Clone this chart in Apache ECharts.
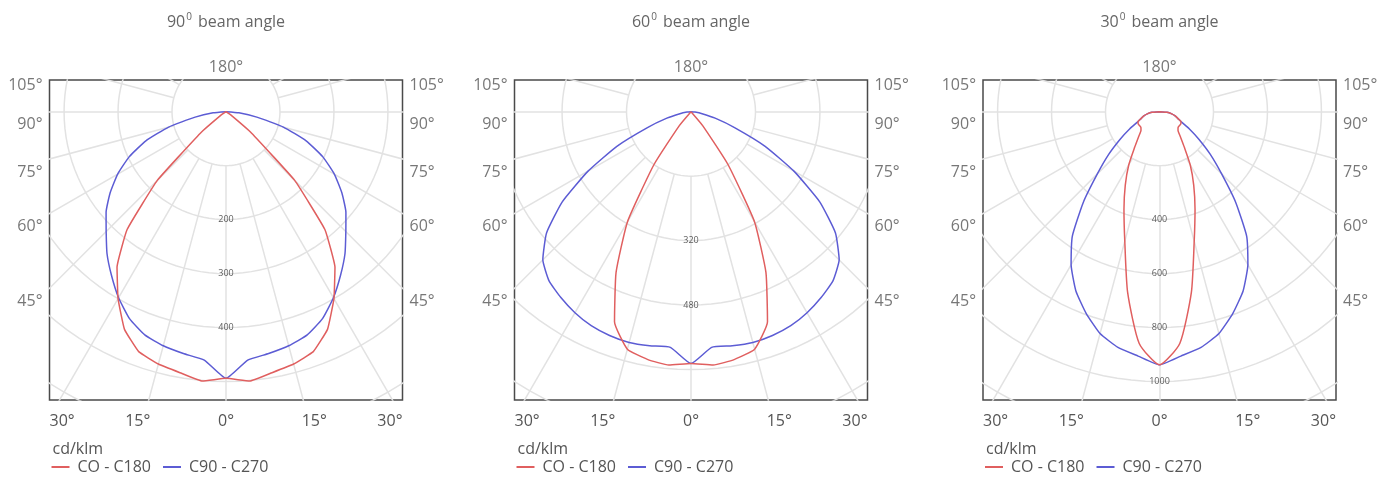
<!DOCTYPE html>
<html>
<head>
<meta charset="utf-8">
<script src="https://cdn.jsdelivr.net/npm/echarts@6/dist/echarts.min.js"></script>
<style>
html, body { margin: 0; padding: 0; background: #fff; }
#main { width: 1389px; height: 477px; }
</style>
</head>
<body>
<div id="main"></div>
<script>
// gamma angles (deg from nadir) and intensities, cd/klm
var gammaSteps = [0, 5, 10, 15, 20, 25, 30, 35, 40, 45, 50, 55, 60, 65, 70, 75, 80, 85, 90];

var red90  = [494, 501, 491, 484, 473, 445, 400, 352, 285, 180, 62, 12, 0, 0, 0, 0, 0, 0, 0];
var blue90 = [494, 462, 455, 449, 440, 423, 398, 370, 343, 314, 290, 262, 232, 198, 158, 110, 58, 24, 0];

var red60  = [625, 631, 624, 610, 555, 440, 315, 160, 45, 0, 0, 0, 0, 0, 0, 0, 0, 0, 0];
var blue60 = [625, 587, 590, 593, 591, 586, 576, 563, 548, 520, 468, 390, 295, 203, 115, 62, 28, 10, 0];

var red30  = [938, 862, 680, 497, 385, 300, 228, 160, 120, 97, 90, 90, 91, 88, 72, 60, 46, 28, 0];
var blue30 = [938, 909, 887, 851, 795, 733, 655, 563, 440, 325, 245, 178, 128, 89, 72, 60, 46, 28, 0];

var rings90 = [100, 200, 300, 400, 500, 600];
var rings60 = [160, 320, 480, 640, 800];
var rings30 = [200, 400, 600, 800, 1000, 1200];
var ringLabels90 = [200, 300, 400];
var ringLabels60 = [320, 480];
var ringLabels30 = [400, 600, 800, 1000];

var sideAngles = [105, 90, 75, 60, 45];
var bottomTicks = [30, 15, 0, 15, 30];
var legendNames = ['CO - C180', 'C90 - C270'];

var FONT = '"Open Sans", "Noto Sans", sans-serif';
var RED = '#e05f5f', BLUE = '#5c5cd4', GRID = '#e2e2e2', TXT = '#555';
var BOX_W = 353, BOX_H = 320, TOP = 80, CY = 31.7;
var D2R = Math.PI / 180;

var panels = [
    {beam: '90', left: 49.5, half: 327, red: red90, blue: blue90, rings: rings90, ringText: ringLabels90, redSmooth: 0.1},
    {beam: '60', left: 514.5, half: 438, red: red60, blue: blue60, rings: rings60, ringText: ringLabels60, redSmooth: 0.15},
    {beam: '30', left: 983, half: 654, red: red30, blue: blue30, rings: rings30, ringText: ringLabels30, redSmooth: 0.2}
];

function pt(r, g) {
    return [r * Math.sin(g * D2R), -r * Math.cos(g * D2R)];
}

// left half (C180 / C270) then right half (C0 / C90)
function outline(vals) {
    var out = [], k;
    for (k = gammaSteps.length - 1; k >= 0; k--) out.push(pt(vals[k], -gammaSteps[k]));
    for (k = 1; k < gammaSteps.length; k++) out.push(pt(vals[k], gammaSteps[k]));
    return out;
}

var chart = echarts.init(document.getElementById('main'));
var grids = [], xAxes = [], yAxes = [], series = [], legends = [], titles = [];

panels.forEach(function (p, i) {
    var s = (BOX_W / 2) / p.half;
    var yMax = CY / s, yMin = -(BOX_H - CY) / s;
    var cx = p.left + BOX_W / 2;

    grids.push({left: p.left, top: TOP, width: BOX_W, height: BOX_H, show: true,
        borderColor: '#4a4a4a', borderWidth: 1.5, backgroundColor: 'transparent'});
    xAxes.push({
        type: 'value', gridIndex: i, min: -p.half, max: p.half, interval: p.half / 2,
        axisLine: {show: false}, axisTick: {show: false}, splitLine: {show: false},
        axisLabel: {
            margin: 13, fontSize: 16, color: TXT, fontFamily: FONT,
            alignMinLabel: 'left', alignMaxLabel: 'right',
            formatter: function (v) {
                return bottomTicks[Math.round((v + p.half) / (p.half / 2))] + '°';
            }
        }
    });
    yAxes.push({type: 'value', gridIndex: i, min: yMin, max: yMax, show: false});

    // polar grid: spokes every 15 deg from the first ring outwards, and rings
    var spokes = [];
    for (var a = -165; a <= 180; a += 15) {
        spokes.push({coords: [pt(p.rings[0], a), pt(p.rings[0] * 8, a)]});
    }
    var circles = p.rings.map(function (r) {
        var c = [];
        for (var g = 0; g <= 360; g += 3) c.push(pt(r, g));
        return {coords: c};
    });
    series.push({type: 'lines', coordinateSystem: 'cartesian2d', xAxisIndex: i, yAxisIndex: i,
        data: spokes, silent: true, clip: true, z: 1,
        lineStyle: {color: GRID, width: 1.5, opacity: 1}});
    series.push({type: 'lines', polyline: true, coordinateSystem: 'cartesian2d', xAxisIndex: i, yAxisIndex: i,
        data: circles, silent: true, clip: true, z: 1,
        lineStyle: {color: GRID, width: 1.5, opacity: 1}});

    series.push({type: 'line', name: legendNames[1], xAxisIndex: i, yAxisIndex: i,
        data: outline(p.blue), symbol: 'none', smooth: 0.15, z: 3,
        lineStyle: {color: BLUE, width: 1.5}, itemStyle: {color: BLUE}});
    series.push({type: 'line', name: legendNames[0], xAxisIndex: i, yAxisIndex: i,
        data: outline(p.red), symbol: 'none', smooth: p.redSmooth, z: 4,
        lineStyle: {color: RED, width: 1.5}, itemStyle: {color: RED}});

    // ring values on the 0 deg axis
    series.push({type: 'scatter', xAxisIndex: i, yAxisIndex: i, symbolSize: 0, silent: true, clip: false, z: 5,
        data: p.ringText.map(function (r) { return {name: String(r), value: [0, -r]}; }),
        label: {show: true, position: 'inside', formatter: '{b}', fontSize: 9, color: '#333', fontFamily: FONT}});

    // angle labels where the spokes meet the frame
    var side = [];
    sideAngles.forEach(function (a) {
        var yy = -p.half / Math.tan(a * D2R);
        var clamp = yy > yMax;
        [-1, 1].forEach(function (sg) {
            side.push({name: a + '°', value: [sg * p.half, clamp ? yMax : yy],
                label: {position: sg < 0 ? 'left' : 'right', offset: [0, clamp ? 5 : 13]}});
        });
    });
    side.push({name: '180°', value: [0, yMax], label: {position: 'top', distance: 5}});
    series.push({type: 'scatter', xAxisIndex: i, yAxisIndex: i, symbolSize: 0, silent: true, clip: false, z: 5,
        data: side,
        label: {show: true, formatter: '{b}', distance: 7, fontSize: 16, color: TXT, fontFamily: FONT}});

    titles.push({
        text: '{a|' + p.beam + '}{b|0}{a| beam angle}', left: cx, top: 12, textAlign: 'center', padding: 0,
        textStyle: {fontWeight: 'normal', rich: {
            a: {fontSize: 16, color: '#666', fontWeight: 'normal', fontFamily: FONT, lineHeight: 20},
            b: {fontSize: 10, color: '#666', fontWeight: 'normal', fontFamily: FONT, verticalAlign: 'top', lineHeight: 20, padding: [0, 2, 0, 1]}
        }}
    });
    titles.push({text: 'cd/klm', left: p.left + 3, top: 439, padding: 0,
        textStyle: {fontSize: 16, fontWeight: 'normal', color: TXT, fontFamily: FONT, lineHeight: 20}});
    legends.push({left: p.left + 2, top: 459, data: legendNames, selectedMode: false,
        icon: 'rect', itemWidth: 18, itemHeight: 2, itemGap: 12, padding: 0,
        textStyle: {fontSize: 16, color: TXT, fontFamily: FONT, padding: [0, 0, 0, 3]}});
});

chart.setOption({
    animation: false,
    title: titles,
    legend: legends,
    grid: grids,
    xAxis: xAxes,
    yAxis: yAxes,
    series: series
});
</script>
</body>
</html>
